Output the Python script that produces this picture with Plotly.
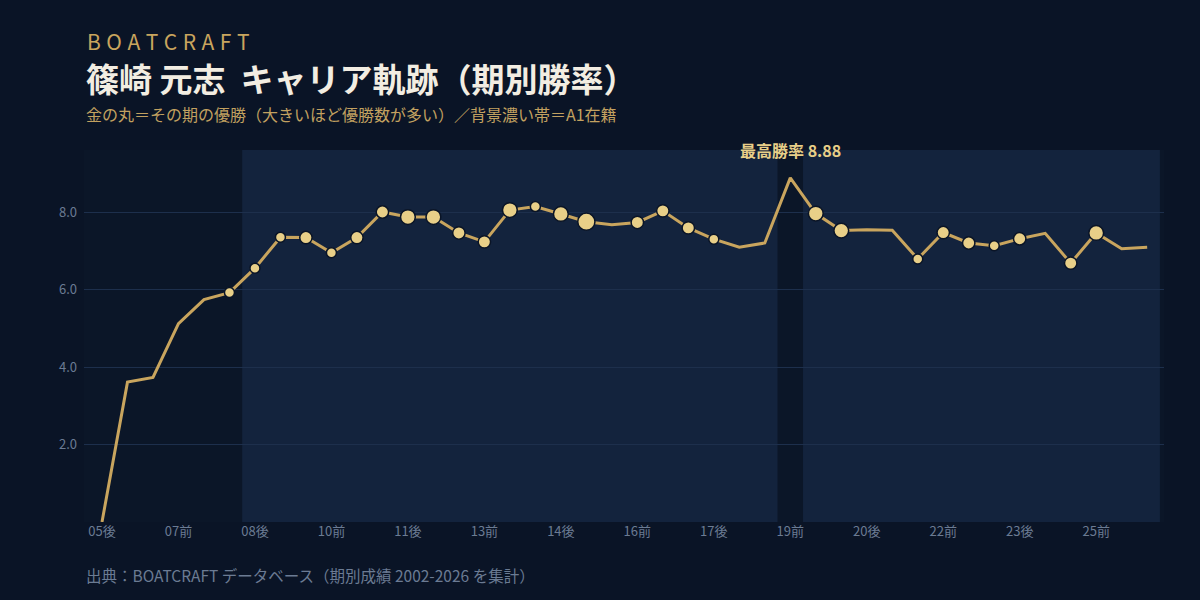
import plotly.graph_objects as go

periods = ["05後","06前","06後","07前","07後","08前","08後","09前","09後","10前",
           "10後","11前","11後","12前","12後","13前","13後","14前","14後","15前",
           "15後","16前","16後","17前","17後","18前","18後","19前","19後","20前",
           "20後","21前","21後","22前","22後","23前","23後","24前","24後","25前",
           "25後","26前"]
win_rate = [0.00, 3.61, 3.73, 5.12, 5.74, 5.92, 6.55, 7.35, 7.34, 6.95,
            7.34, 8.00, 7.87, 7.87, 7.46, 7.23, 8.05, 8.14, 7.95, 7.75,
            7.67, 7.73, 8.03, 7.59, 7.30, 7.09, 7.20, 8.88, 7.96, 7.52,
            7.54, 7.53, 6.79, 7.47, 7.20, 7.13, 7.31, 7.45, 6.68, 7.46,
            7.05, 7.09]
wins = [0, 0, 0, 0, 0, 1, 1, 1, 2, 1,
        2, 2, 3, 3, 2, 2, 3, 1, 3, 4,
        0, 2, 2, 2, 1, 0, 0, 0, 3, 3,
        0, 0, 1, 2, 2, 1, 2, 0, 2, 3,
        0, 0]
a1 = [0, 0, 0, 0, 0, 0, 1, 1, 1, 1,
      1, 1, 1, 1, 1, 1, 1, 1, 1, 1,
      1, 1, 1, 1, 1, 1, 1, 0, 1, 1,
      1, 1, 1, 1, 1, 1, 1, 1, 1, 1,
      1, 1]
tick_labels = periods[::3]
y_ticks = [2, 4, 6, 8]

FONT = "Noto Sans CJK JP"
PAPER = "#0a1426"
PLOT = "#0b1628"
BAND = "#13233d"
GOLD = "#c9a55e"
GOLD_LIGHT = "#e8cf88"
GRAY = "#6b7b93"
CREAM = "#f2ede2"

fig = go.Figure()

# A1 bands
shapes = []
i = 0
n = len(periods)
while i < n:
    if a1[i]:
        j = i
        while j + 1 < n and a1[j + 1]:
            j += 1
        shapes.append(dict(type="rect", xref="x", yref="paper",
                           x0=i - 0.5, x1=j + 0.5, y0=0, y1=1,
                           fillcolor=BAND, line=dict(width=0), layer="below"))
        i = j + 1
    else:
        i += 1

fig.add_trace(go.Scatter(
    x=periods, y=win_rate, mode="lines",
    line=dict(color=GOLD, width=3), hoverinfo="skip", showlegend=False,
    cliponaxis=True))

mx = [p for p, w in zip(periods, wins) if w > 0]
my = [v for v, w in zip(win_rate, wins) if w > 0]
ms = [7.6 + 2.4 * w for w in wins if w > 0]
fig.add_trace(go.Scatter(
    x=mx, y=my, mode="markers",
    marker=dict(size=ms, color=GOLD_LIGHT, opacity=1,
                line=dict(color=PAPER, width=1.5)),
    showlegend=False, cliponaxis=False))

peak_i = max(range(n), key=lambda k: win_rate[k])

sp = "\u2009\u200a"
annotations = [
    dict(x=periods[peak_i], y=win_rate[peak_i], xref="x", yref="y",
         text=f"<b>最高勝率 {win_rate[peak_i]:.2f}</b>", showarrow=False,
         yanchor="bottom", yshift=14,
         font=dict(family=FONT, size=16, color=GOLD_LIGHT)),
    dict(x=0, y=1.2932, xref="paper", yref="paper", xanchor="left", yanchor="middle",
         xshift=1, text=sp.join("BOATCRAFT"),
         showarrow=False, font=dict(family=FONT, size=21, color=GOLD)),
    dict(x=0, y=1.1937, xref="paper", yref="paper", xanchor="left", yanchor="middle",
         xshift=0, text="<b>篠崎 元志\u00a0\u00a0キャリア軌跡（期別勝率）</b>",
         showarrow=False, font=dict(family=FONT, size=33, color=CREAM)),
    dict(x=0, y=1.0969, xref="paper", yref="paper", xanchor="left", yanchor="middle",
         xshift=0, text="金の丸＝その期の優勝（大きいほど優勝数が多い）／背景濃い帯＝A1在籍",
         showarrow=False, font=dict(family=FONT, size=16, color="#c2a160")),
    dict(x=0, y=-0.1434, xref="paper", yref="paper", xanchor="left", yanchor="middle",
         xshift=0, text="出典：BOATCRAFT データベース（期別成績 2002-2026 を集計）",
         showarrow=False, font=dict(family=FONT, size=15.5, color=GRAY)),
]

fig.update_layout(
    width=1200, height=600,
    margin=dict(l=84, r=36, t=150, b=78),
    paper_bgcolor=PAPER, plot_bgcolor=PLOT,
    shapes=shapes, annotations=annotations,
    font=dict(family=FONT, color=GRAY),
    xaxis=dict(type="category", categoryorder="array", categoryarray=periods,
               range=[-0.706, 41.66], tickmode="array", tickvals=tick_labels,
               ticktext=tick_labels, showgrid=False, zeroline=False, showline=False,
               ticks="", tickfont=dict(family=FONT, size=13, color=GRAY)),
    yaxis=dict(range=[0, 9.6], tickmode="array", tickvals=y_ticks, tickformat=".1f",
               showgrid=True, gridcolor="#1d2f4c", gridwidth=1, zeroline=False,
               showline=False, ticks="", ticklabelstandoff=6,
               tickfont=dict(family=FONT, size=13, color=GRAY)),
    hovermode=False,
)

fig.write_html("out.html")
